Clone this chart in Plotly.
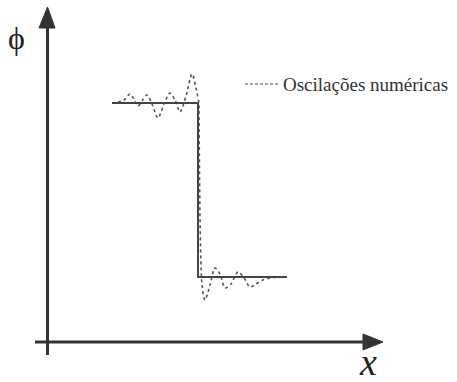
import plotly.graph_objects as go

# Exact (step) solution, in pixel-like units of the sketch
step_x = [112, 198, 198, 287]
step_phi = [103, 103, 277, 277]

# Numerical oscillations (dotted)
osc_x = [112, 118, 124, 130, 134, 138, 142, 147, 152, 158, 164, 170, 175, 180, 186, 192, 196, 199,
         199, 202, 205, 210, 215, 220, 225, 231, 238, 244, 250, 256, 263, 270, 278, 287]
osc_phi = [103, 102, 100, 94, 99, 106, 101, 95, 104, 118, 104, 93, 100, 112, 96, 74, 88, 103,
           103, 285, 300, 285, 268, 274, 288, 284, 272, 278, 287, 284, 280, 278, 277, 277]

legend_label = "Oscilações numéricas"

SERIF = "Liberation Serif"

fig = go.Figure()
fig.add_trace(go.Scatter(x=osc_x, y=osc_phi, mode="lines",
                         line=dict(color="#555555", width=1.6, dash="dot", shape="spline", smoothing=0.8),
                         hoverinfo="skip"))
fig.add_trace(go.Scatter(x=step_x, y=step_phi, mode="lines",
                         line=dict(color="#444444", width=2), hoverinfo="skip"))

# Legend sample line
fig.add_shape(type="line", x0=245, x1=280, y0=84, y1=84,
              line=dict(color="#444444", width=1.2, dash="3px,2px"))
fig.add_annotation(x=281, y=84, text=legend_label, showarrow=False, xanchor="left", yanchor="middle",
                   font=dict(family=SERIF, size=19, color="#333333"))

ax_col = "#333333"
# vertical axis
fig.add_shape(type="line", x0=47.5, x1=47.5, y0=355, y1=25, line=dict(color=ax_col, width=3))
fig.add_shape(type="path", path="M 39,28 L 47.5,7 L 55,28 Z", fillcolor=ax_col, line=dict(color=ax_col, width=1))
# horizontal axis
fig.add_shape(type="line", x0=35, x1=366, y0=342, y1=342, line=dict(color=ax_col, width=3))
fig.add_shape(type="path", path="M 363,334 L 383,342 L 363,350 Z", fillcolor=ax_col, line=dict(color=ax_col, width=1))

fig.add_annotation(x=16, y=38, text="ϕ", showarrow=False, xanchor="center", yanchor="middle",
                   font=dict(family=SERIF, size=32, color="#222222"))
fig.add_annotation(x=368, y=362, text="<i>x</i>", showarrow=False, xanchor="center", yanchor="middle",
                   font=dict(family=SERIF, size=38, color="#222222"))

fig.update_layout(width=457, height=382, margin=dict(l=0, r=0, t=0, b=0),
                  paper_bgcolor="white", plot_bgcolor="white", showlegend=False,
                  xaxis=dict(range=[0, 457], visible=False, fixedrange=True),
                  yaxis=dict(range=[382, 0], visible=False, fixedrange=True))
fig.write_html("out.html", config={"displayModeBar": False})
